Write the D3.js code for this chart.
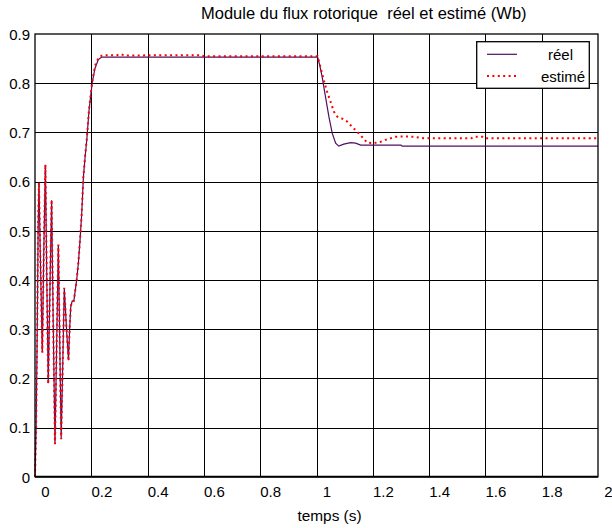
<!DOCTYPE html>
<html>
<head>
<meta charset="utf-8">
<script src="https://cdn.jsdelivr.net/npm/d3@7"></script>
<style>
  html, body { margin: 0; padding: 0; background: #fff; }
  svg { display: block; font-family: "Liberation Sans", Arial, sans-serif; }
  .keep-spaces { white-space: pre; }
</style>
</head>
<body>
<svg id="chart" width="612" height="528"></svg>
<script>
// Rotor flux magnitude: actual ("réel") and observer estimate ("estimé")
const titleText = "Module du flux rotorique  réel et estimé (Wb)";
const xLabelText = "temps (s)";
const seriesNames = ["réel", "estimé"];

const xTicks = [0, 0.2, 0.4, 0.6, 0.8, 1.0, 1.2, 1.4, 1.6, 1.8, 2.0];
const xTickLabels = ["0", "0.2", "0.4", "0.6", "0.8", "1", "1.2", "1.4", "1.6", "1.8", "2"];
const yTicks = [0, 0.1, 0.2, 0.3, 0.4, 0.5, 0.6, 0.7, 0.8, 0.9];
const yTickLabels = ["0", "0.1", "0.2", "0.3", "0.4", "0.5", "0.6", "0.7", "0.8", "0.9"];

// actual flux: time (s) and magnitude (Wb)
const realTime = [
  0, 0.004, 0.008, 0.011, 0.014, 0.020, 0.026, 0.031, 0.037, 0.042, 0.047,
  0.053, 0.059, 0.065, 0.071, 0.077, 0.083, 0.088, 0.093, 0.099, 0.104,
  0.112, 0.119, 0.123, 0.127, 0.132, 0.138, 0.148, 0.154, 0.160, 0.166,
  0.172, 0.178, 0.184, 0.192, 0.203, 0.213, 0.225, 0.237, 0.32, 0.60,
  1.004, 1.012, 1.020, 1.032, 1.044, 1.056, 1.068, 1.079, 1.097, 1.121,
  1.139, 1.157, 1.30, 1.305, 2.0
];
const realFlux = [
  0, 0.10, 0.30, 0.50, 0.597, 0.42, 0.254, 0.45, 0.634, 0.40, 0.19,
  0.38, 0.562, 0.30, 0.068, 0.27, 0.471, 0.27, 0.078, 0.24, 0.383,
  0.30, 0.237, 0.30, 0.345, 0.357, 0.357, 0.40, 0.434, 0.481, 0.535,
  0.61, 0.65, 0.685, 0.745, 0.80, 0.83, 0.848, 0.853, 0.853, 0.853,
  0.853, 0.835, 0.813, 0.772, 0.732, 0.698, 0.678, 0.672, 0.676, 0.679,
  0.678, 0.674, 0.674, 0.672, 0.672
];

// estimated flux: time (s) and magnitude (Wb)
const estTime = [
  0, 0.004, 0.008, 0.011, 0.014, 0.020, 0.026, 0.031, 0.037, 0.042, 0.047,
  0.053, 0.059, 0.065, 0.071, 0.077, 0.083, 0.088, 0.093, 0.099, 0.104,
  0.112, 0.119, 0.123, 0.127, 0.132, 0.138, 0.148, 0.154, 0.160, 0.166,
  0.172, 0.178, 0.184, 0.192, 0.203, 0.213, 0.225, 0.237, 0.26, 0.29,
  0.305, 0.32, 0.45, 0.59, 0.60, 1.004, 1.014, 1.026, 1.038, 1.050,
  1.062, 1.074, 1.091, 1.109, 1.127, 1.145, 1.163, 1.180, 1.204, 1.228,
  1.251, 1.281, 1.311, 1.346, 1.382, 1.55, 1.56, 1.59, 1.60, 2.0
];
const estFlux = [
  0, 0.10, 0.31, 0.51, 0.598, 0.42, 0.252, 0.45, 0.635, 0.40, 0.188,
  0.38, 0.563, 0.30, 0.066, 0.27, 0.472, 0.27, 0.076, 0.24, 0.384,
  0.30, 0.235, 0.30, 0.346, 0.357, 0.358, 0.40, 0.434, 0.482, 0.536,
  0.61, 0.652, 0.687, 0.747, 0.802, 0.835, 0.851, 0.856, 0.857, 0.857,
  0.859, 0.856, 0.857, 0.857, 0.855, 0.855, 0.833, 0.806, 0.782, 0.762,
  0.742, 0.732, 0.728, 0.722, 0.711, 0.701, 0.690, 0.679, 0.678, 0.681,
  0.686, 0.691, 0.692, 0.691, 0.688, 0.688, 0.691, 0.691, 0.688, 0.688
];

const svg = d3.select("#chart");
const plot = { left: 35, right: 598, top: 34, bottom: 476.7 };

const x = d3.scaleLinear().domain([0, 2]).range([plot.left, plot.right]);
const y = d3.scaleLinear().domain([0, 0.9]).range([plot.bottom, plot.top]);

// grid lines
const grid = svg.append("g").attr("stroke", "#000").attr("stroke-width", 1);
grid.selectAll("line.gx").data(xTicks.slice(1, -1)).join("line")
  .attr("x1", d => Math.round(x(d)) + 0.5).attr("x2", d => Math.round(x(d)) + 0.5)
  .attr("y1", plot.top).attr("y2", plot.bottom);
grid.selectAll("line.gy").data(yTicks.slice(1, -1)).join("line")
  .attr("y1", d => Math.round(y(d)) + 0.5).attr("y2", d => Math.round(y(d)) + 0.5)
  .attr("x1", plot.left).attr("x2", plot.right);

// axes (labels drawn by d3 axis generators)
const xAxis = d3.axisBottom(x).tickValues(xTicks)
  .tickFormat((d, i) => xTickLabels[i]).tickSize(0).tickPadding(0);
const gx = svg.append("g").attr("transform", `translate(0,${plot.bottom})`).call(xAxis);
gx.select(".domain").remove();
gx.selectAll("text")
  .attr("font-family", "Liberation Sans, Arial, sans-serif")
  .attr("font-size", 15).attr("fill", "#000")
  .attr("dy", null).attr("y", 20).attr("dx", 10);

const yAxis = d3.axisLeft(y).tickValues(yTicks)
  .tickFormat((d, i) => yTickLabels[i]).tickSize(0).tickPadding(5);
const gy = svg.append("g").attr("transform", `translate(${plot.left},0)`).call(yAxis);
gy.select(".domain").remove();
gy.selectAll("text")
  .attr("font-family", "Liberation Sans, Arial, sans-serif")
  .attr("font-size", 15).attr("fill", "#000").attr("dy", "0.36em");

// curves
const realPts = realTime.map((t, i) => [t, realFlux[i]]);
const estPts = estTime.map((t, i) => [t, estFlux[i]]);
const line = d3.line().x(d => x(d[0])).y(d => y(d[1]));

svg.append("path").datum(realPts)
  .attr("d", line).attr("fill", "none")
  .attr("stroke", "#4f1060").attr("stroke-width", 1.2);

svg.append("path").datum(estPts)
  .attr("d", line).attr("fill", "none")
  .attr("stroke", "#ff0000").attr("stroke-width", 2)
  .attr("stroke-dasharray", "2,3.4");

// frame
svg.append("rect")
  .attr("x", plot.left).attr("y", plot.top)
  .attr("width", plot.right - plot.left).attr("height", plot.bottom - plot.top)
  .attr("fill", "none").attr("stroke", "#000").attr("stroke-width", 1.3);
svg.append("line")
  .attr("x1", plot.left).attr("x2", plot.right)
  .attr("y1", plot.bottom).attr("y2", plot.bottom)
  .attr("stroke", "#000").attr("stroke-width", 2);

// legend
const lg = svg.append("g");
lg.append("rect").attr("x", 476.7).attr("y", 41.7).attr("width", 112.6).attr("height", 46.6)
  .attr("fill", "#fff").attr("stroke", "#000").attr("stroke-width", 1.3);
lg.append("line").attr("x1", 487).attr("x2", 517).attr("y1", 54.3).attr("y2", 54.3)
  .attr("stroke", "#4f1060").attr("stroke-width", 1.2);
lg.append("line").attr("x1", 487).attr("x2", 517).attr("y1", 76).attr("y2", 76)
  .attr("stroke", "#ff0000").attr("stroke-width", 2).attr("stroke-dasharray", "2,3.4");
lg.append("text").attr("x", 548).attr("y", 59.5).attr("font-size", 15).text(seriesNames[0]);
lg.append("text").attr("x", 541).attr("y", 81.5).attr("font-size", 15).text(seriesNames[1]);

// title and axis label
svg.append("text").attr("class", "keep-spaces")
  .attr("x", 201).attr("y", 19).attr("font-size", 16.5).text(titleText);
svg.append("text").attr("x", 329.5).attr("y", 521).attr("text-anchor", "middle")
  .attr("font-size", 15.4).text(xLabelText);
</script>
</body>
</html>
